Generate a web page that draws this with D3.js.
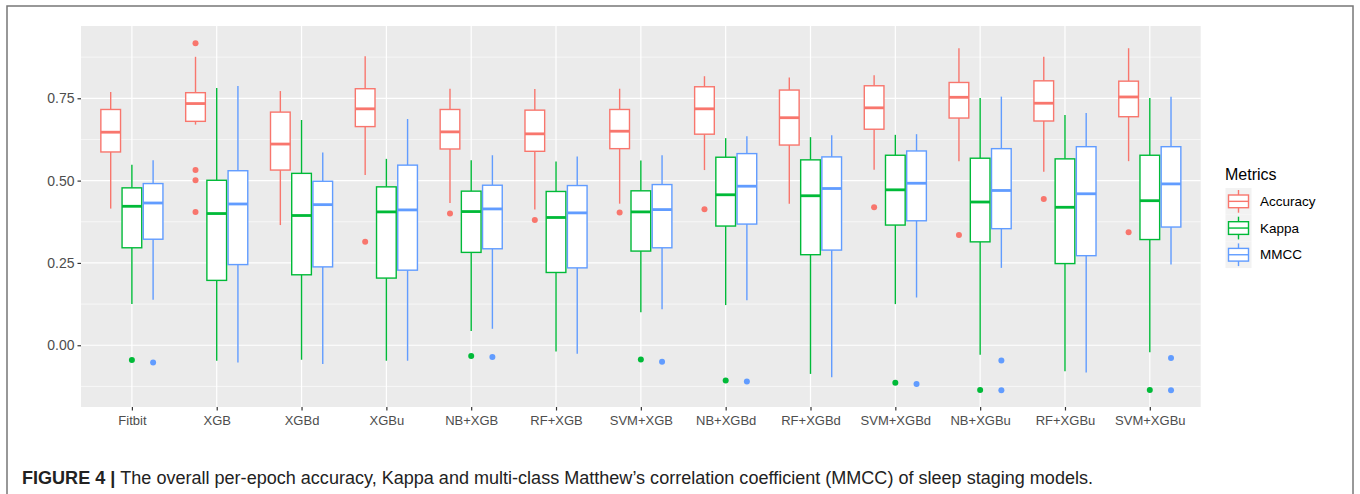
<!DOCTYPE html>
<html><head><meta charset="utf-8">
<script src="https://cdn.jsdelivr.net/npm/d3@7"></script>
<style>body{margin:0;background:#fff;}svg{display:block;font-family:"Liberation Sans",Arial,sans-serif;}</style>
</head><body>
<svg id="chart" width="1360" height="494"></svg>
<script>
const categories = ["Fitbit","XGB","XGBd","XGBu","NB+XGB","RF+XGB","SVM+XGB","NB+XGBd","RF+XGBd","SVM+XGBd","NB+XGBu","RF+XGBu","SVM+XGBu"];
const metrics = ["Accuracy","Kappa","MMCC"];
const metricColors = ["#F8766D","#00BA38","#619CFF"];
const yTicks = [0, 0.25, 0.5, 0.75];
// [whiskerLow, Q1, median, Q3, whiskerHigh] per category
const accuracyStats = [
  [0.415,0.587,0.647,0.716,0.769],
  [0.670,0.680,0.734,0.767,0.876],
  [0.365,0.532,0.611,0.708,0.772],
  [0.517,0.664,0.718,0.779,0.878],
  [0.432,0.596,0.648,0.716,0.779],
  [0.412,0.589,0.642,0.714,0.778],
  [0.430,0.597,0.650,0.716,0.779],
  [0.532,0.641,0.718,0.785,0.817],
  [0.430,0.608,0.691,0.775,0.813],
  [0.533,0.656,0.721,0.788,0.820],
  [0.559,0.690,0.753,0.798,0.902],
  [0.527,0.681,0.735,0.803,0.876],
  [0.559,0.694,0.754,0.802,0.902]
];
const accuracyOutliers = [[],[0.917,0.532,0.501,0.405],[],[0.314],[0.400],[0.380],[0.403],[0.413],[],[0.419],[0.335],[0.444],[0.343]];
const kappaStats = [
  [0.125,0.296,0.422,0.478,0.548],
  [-0.047,0.197,0.400,0.501,0.781],
  [-0.044,0.214,0.394,0.522,0.684],
  [-0.047,0.204,0.405,0.481,0.566],
  [0.043,0.282,0.406,0.468,0.562],
  [-0.019,0.221,0.388,0.467,0.558],
  [0.100,0.286,0.405,0.469,0.561],
  [0.122,0.362,0.457,0.571,0.629],
  [-0.087,0.275,0.454,0.563,0.632],
  [0.125,0.365,0.472,0.577,0.639],
  [-0.029,0.314,0.435,0.568,0.751],
  [-0.079,0.248,0.419,0.566,0.699],
  [-0.021,0.321,0.439,0.577,0.751]
];
const kappaOutliers = [[-0.045],[],[],[],[-0.033],[],[-0.043],[-0.107],[],[-0.114],[-0.136],[],[-0.136]];
const mmccStats = [
  [0.138,0.322,0.432,0.491,0.562],
  [-0.052,0.245,0.429,0.530,0.787],
  [-0.057,0.238,0.427,0.498,0.585],
  [-0.047,0.228,0.411,0.547,0.687],
  [0.050,0.293,0.414,0.486,0.577],
  [-0.026,0.235,0.402,0.485,0.573],
  [0.109,0.296,0.412,0.488,0.577],
  [0.137,0.368,0.483,0.582,0.635],
  [-0.097,0.289,0.476,0.572,0.638],
  [0.145,0.378,0.492,0.590,0.641],
  [0.235,0.354,0.470,0.597,0.755],
  [-0.083,0.272,0.460,0.603,0.705],
  [0.245,0.359,0.490,0.603,0.755]
];
const mmccOutliers = [[-0.052],[],[],[],[-0.036],[],[-0.050],[-0.110],[],[-0.118],[-0.046,-0.137],[],[-0.039,-0.137]];

const statsByMetric = [accuracyStats, kappaStats, mmccStats];
const outliersByMetric = [accuracyOutliers, kappaOutliers, mmccOutliers];

const svg = d3.select("#chart");
const P = {left:81, right:1200.7, top:26, bottom:407};

// outer frame
svg.append("rect").attr("x",7).attr("y",6).attr("width",1346).attr("height",500)
  .attr("fill","none").attr("stroke","#777").attr("stroke-width",1.5);

const y = d3.scaleLinear().domain([-0.1875, 0.9695]).range([P.bottom, P.top]);
const x = d3.scalePoint().domain(categories).range([P.left, P.right]).padding(0.6);
const unit = x.step();

const g = svg.append("g");
g.append("rect").attr("x",P.left).attr("y",P.top).attr("width",P.right-P.left).attr("height",P.bottom-P.top).attr("fill","#EBEBEB");

// minor grid
const minor = [-0.125, 0.125, 0.375, 0.625, 0.875];
g.selectAll(".minor").data(minor).join("line")
  .attr("x1",P.left).attr("x2",P.right).attr("y1",d=>y(d)).attr("y2",d=>y(d))
  .attr("stroke","#fff").attr("stroke-width",0.6);
g.selectAll(".major").data(yTicks).join("line")
  .attr("x1",P.left).attr("x2",P.right).attr("y1",d=>y(d)).attr("y2",d=>y(d))
  .attr("stroke","#fff").attr("stroke-width",1.2);
g.selectAll(".vgrid").data(categories).join("line")
  .attr("x1",d=>x(d)).attr("x2",d=>x(d)).attr("y1",P.top).attr("y2",P.bottom)
  .attr("stroke","#fff").attr("stroke-width",1.2);

// axes
const yAxis = d3.axisLeft(y).tickValues(yTicks).tickFormat(d3.format(".2f")).tickSize(3.5).tickPadding(3);
const ya = svg.append("g").attr("transform",`translate(${P.left},0)`).call(yAxis);
ya.select(".domain").remove();
ya.selectAll("line").attr("stroke","#333").attr("stroke-width",1.2);
ya.selectAll("text").attr("fill","#4D4D4D").attr("font-size",14).attr("font-family","Liberation Sans, Arial, sans-serif");

const xAxis = d3.axisBottom(x).tickSize(3.5).tickPadding(5);
const xa = svg.append("g").attr("transform",`translate(0,${P.bottom})`).call(xAxis);
xa.select(".domain").remove();
xa.selectAll("line").attr("stroke","#333").attr("stroke-width",1.2);
xa.selectAll("text").attr("fill","#4D4D4D").attr("font-size",13).attr("font-family","Liberation Sans, Arial, sans-serif");

// boxes
const offset = unit*0.25, bw = unit*0.232;
metrics.forEach((m, mi) => {
  const col = metricColors[mi];
  const gm = g.append("g");
  categories.forEach((c, ci) => {
    const s = statsByMetric[mi][ci];
    const cx = x(c) + (mi-1)*offset;
    gm.append("line").attr("x1",cx).attr("x2",cx).attr("y1",y(s[0])).attr("y2",y(s[1])).attr("stroke",col).attr("stroke-width",1.4);
    gm.append("line").attr("x1",cx).attr("x2",cx).attr("y1",y(s[3])).attr("y2",y(s[4])).attr("stroke",col).attr("stroke-width",1.4);
    gm.append("rect").attr("x",cx-bw/2).attr("y",y(s[3])).attr("width",bw).attr("height",y(s[1])-y(s[3]))
      .attr("fill","#fff").attr("stroke",col).attr("stroke-width",1.4);
    gm.append("line").attr("x1",cx-bw/2).attr("x2",cx+bw/2).attr("y1",y(s[2])).attr("y2",y(s[2])).attr("stroke",col).attr("stroke-width",2.8);
    outliersByMetric[mi][ci].forEach(o => {
      gm.append("circle").attr("cx",cx).attr("cy",y(o)).attr("r",3).attr("fill",col);
    });
  });
});

// legend
const L = svg.append("g");
L.append("text").attr("x",1225).attr("y",180).attr("font-size",16).attr("fill","#000").text("Metrics");
metrics.forEach((m, i) => {
  const ky = 188 + i*26.7, kx = 1225.5, kw = 26, kh = 26.7;
  L.append("rect").attr("x",kx).attr("y",ky).attr("width",kw).attr("height",kh).attr("fill","#F2F2F2");
  const cx = kx + kw/2, col = metricColors[i];
  L.append("line").attr("x1",cx).attr("x2",cx).attr("y1",ky+2).attr("y2",ky+kh-2).attr("stroke",col).attr("stroke-width",1.4);
  L.append("rect").attr("x",kx+3).attr("y",ky+7).attr("width",kw-6).attr("height",kh-14).attr("fill","#fff").attr("stroke",col).attr("stroke-width",1.4);
  L.append("line").attr("x1",kx+3).attr("x2",kx+kw-3).attr("y1",ky+kh/2).attr("y2",ky+kh/2).attr("stroke",col).attr("stroke-width",1.4);
  L.append("text").attr("x",1260).attr("y",ky+kh/2).attr("dy","0.35em").attr("font-size",13.5).attr("fill","#000").text(m);
});

// caption
const cap = svg.append("text").attr("x",22).attr("y",484).attr("font-size",17.5).attr("fill","#222")
  .attr("textLength",1071).attr("lengthAdjust","spacingAndGlyphs");
cap.append("tspan").attr("font-weight","bold").text("FIGURE 4 | ");
cap.append("tspan").text("The overall per-epoch accuracy, Kappa and multi-class Matthew\u2019s correlation coefficient (MMCC) of sleep staging models.");
</script>
</body></html>
